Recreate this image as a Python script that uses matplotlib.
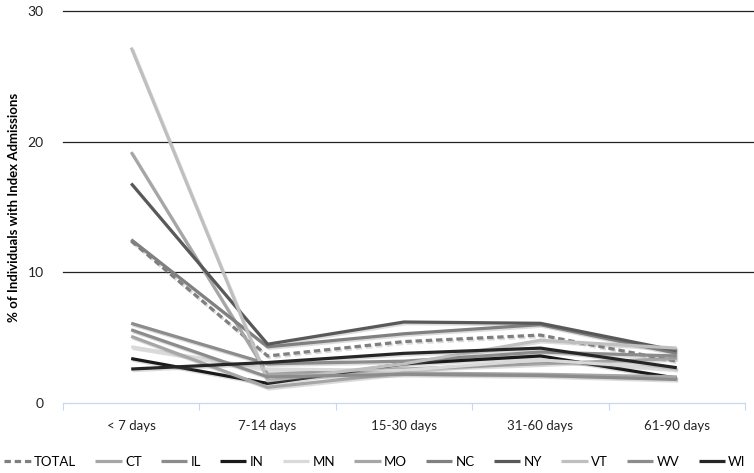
import matplotlib
matplotlib.use("Agg")
import matplotlib.pyplot as plt
import matplotlib.patheffects as pe

categories = ["< 7 days", "7-14 days", "15-30 days", "31-60 days", "61-90 days"]
series_names = ["TOTAL", "CT", "IL", "IN", "MN", "MO", "NC", "NY", "VT", "WV", "WI"]
TOTAL = [12.4, 3.6, 4.7, 5.2, 3.2]
CT = [19.2, 2.2, 2.6, 3.0, 3.4]
IL = [6.1, 3.0, 3.2, 3.9, 3.6]
IN = [3.4, 1.5, 3.0, 3.6, 1.9]
MN = [4.3, 2.6, 2.5, 3.3, 2.6]
MO = [5.1, 1.2, 2.3, 2.2, 2.0]
NC = [12.5, 4.3, 5.3, 6.0, 3.8]
NY = [16.8, 4.5, 6.2, 6.1, 4.0]
VT = [27.2, 1.7, 3.0, 4.8, 4.2]
WV = [5.6, 2.0, 2.2, 2.1, 1.8]
WI = [2.6, 3.1, 3.8, 4.2, 2.7]
values = [TOTAL, CT, IL, IN, MN, MO, NC, NY, VT, WV, WI]
y_ticks = [0, 10, 20, 30]

colors = ["#7f7f7f", "#a6a6a6", "#8c8c8c", "#1a1a1a", "#d9d9d9", "#a6a6a6",
          "#808080", "#595959", "#bfbfbf", "#8c8c8c", "#262626"]
styles = ["--"] + ["-"] * 10

plt.rcParams['font.family'] = ['Lato', 'DejaVu Sans']

fig = plt.figure(figsize=(7.54, 4.73), dpi=100)
ax = fig.add_axes([63/754, 70/473, 682/754, 392/473])

x = list(range(len(categories)))
for name, vals, c, ls in zip(series_names, values, colors, styles):
    ax.plot(x, vals, color=c, linestyle=ls, linewidth=2.3, label=name,
            dashes=(2, 1.2) if ls == "--" else (None, None),
            solid_capstyle='butt',
            path_effects=[pe.SimpleLineShadow(offset=(1, -1.2), alpha=0.25, shadow_color='#777777'), pe.Normal()])

ax.set_xlim(-0.5, len(categories) - 0.5)
ax.set_ylim(0, 30)
ax.set_yticks(y_ticks)
for yv in y_ticks[1:]:
    ax.axhline(yv, color='#222222', linewidth=0.9, xmin=0, xmax=1.013, clip_on=False, zorder=0)

ax.set_xticks(x)
ax.set_xticklabels(categories, fontsize=9.5, color='#222222')
ax.set_xticks([i - 0.5 for i in range(len(categories) + 1)], minor=True)
ax.tick_params(axis='x', which='major', length=0, pad=12)
ax.tick_params(axis='x', which='minor', length=5, color='#c6d9f1', width=0.8)
ax.tick_params(axis='y', length=0, labelsize=10, pad=14, labelcolor='#222222')

for s in ['top', 'right', 'left']:
    ax.spines[s].set_visible(False)
ax.spines['bottom'].set_color('#c6d9f1')
ax.spines['bottom'].set_linewidth(0.9)

ax.set_ylabel("% of Individuals with Index Admissions", fontsize=9.5, fontweight='bold')
ax.yaxis.set_label_coords(-43/682, 0.5)

leg = fig.legend(loc='center', bbox_to_anchor=(375/754, (473-462)/473), ncol=11,
                 frameon=False, fontsize=9.5, handlelength=2.0, handletextpad=0.25,
                 columnspacing=1.45)
for h in leg.get_lines():
    h.set_path_effects([])

fig.savefig("out.png", dpi=100)
